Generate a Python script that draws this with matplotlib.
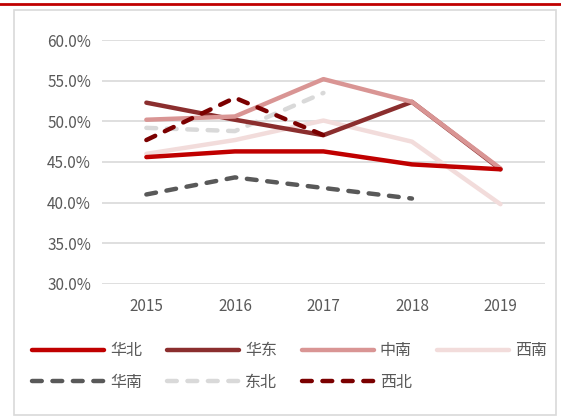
import matplotlib
matplotlib.use("Agg")
import matplotlib.pyplot as plt
from matplotlib.lines import Line2D
from matplotlib.patches import Rectangle

plt.rcParams['font.family'] = ['Noto Sans CJK SC', 'DejaVu Sans']

years = ["2015", "2016", "2017", "2018", "2019"]
huabei = [45.6, 46.3, 46.3, 44.7, 44.1]
huadong = [52.3, 50.2, 48.3, 52.4, 44.1]
zhongnan = [50.2, 50.6, 55.2, 52.4, 44.2]
xinan = [46.0, 47.7, 50.1, 47.5, 39.8]
huanan = [41.0, 43.1, 41.8, 40.5]
dongbei = [49.2, 48.8, 53.5]
xibei = [47.7, 52.9, 48.3]
yticks = [30, 35, 40, 45, 50, 55, 60]

fig = plt.figure(figsize=(5.61, 4.18), dpi=100)
ax = fig.add_axes([0.182, 0.321, 0.789, 0.583])

# outer frame and top red rule
fig.patches.append(Rectangle((14/561, 1-415/418), 542/561, 405/418, transform=fig.transFigure,
                             fill=False, edgecolor='#d9d9d9', linewidth=1.2))
fig.lines.append(Line2D([0, 1], [1-4/418, 1-4/418], transform=fig.transFigure,
                        color='#c00000', linewidth=2))

x = list(range(len(years)))
lw = 3.2
series = [
    ("华北", huabei, '#c00000', '-'),
    ("华东", huadong, '#8b2e2e', '-'),
    ("中南", zhongnan, '#d99594', '-'),
    ("西南", xinan, '#f2dcdb', '-'),
    ("华南", huanan, '#595959', '--'),
    ("东北", dongbei, '#d9d9d9', '--'),
    ("西北", xibei, '#7b0000', '--'),
]
handles = {}
order_z = {"西南": 2, "东北": 3, "华东": 4, "中南": 5, "华北": 6, "华南": 5, "西北": 7}
for name, vals, color, ls in series:
    kw = dict(color=color, linewidth=lw, solid_capstyle='round', dash_capstyle='round',
              solid_joinstyle='round', zorder=order_z[name], label=name)
    if ls == '--':
        ln, = ax.plot(x[:len(vals)], vals, dashes=(2.2, 2.4), **kw)
    else:
        ln, = ax.plot(x[:len(vals)], vals, **kw)
    handles[name] = ln

ax.set_xlim(-0.5, 4.5)
ax.set_ylim(30, 60)
ax.set_yticks(yticks)
ax.set_yticklabels([f"{v:.1f}%" for v in yticks])
ax.set_xticks(x)
ax.set_xticklabels(years)
ax.grid(axis='y', color='#d9d9d9', linewidth=1.2)
ax.set_axisbelow(True)
for s in ax.spines.values():
    s.set_visible(False)
ax.tick_params(length=0, colors='#595959', labelsize=11, pad=8)
ax.tick_params(axis='x', pad=10)

order = ["华北", "华南", "华东", "东北", "中南", "西北", "西南"]
leg = fig.legend([handles[n] for n in order], order, ncol=4, loc='upper left',
                 bbox_to_anchor=(18/561, 1-328/418), frameon=False, handlelength=4.5,
                 columnspacing=1.6, handletextpad=0.35, labelspacing=0.9, fontsize=11.5,
                 labelcolor='#595959')

fig.savefig("out.png", dpi=100)
